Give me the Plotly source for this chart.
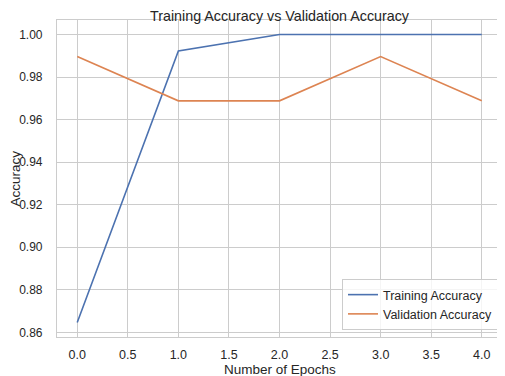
import plotly.graph_objects as go

epochs = [0, 1, 2, 3, 4]
train_acc = [0.8646, 0.9922, 1.0, 1.0, 1.0]
val_acc = [0.9896, 0.9688, 0.9688, 0.9896, 0.9688]
x_ticks = [0.0, 0.5, 1.0, 1.5, 2.0, 2.5, 3.0, 3.5, 4.0]
y_ticks = [0.86, 0.88, 0.90, 0.92, 0.94, 0.96, 0.98, 1.00]

font = "Liberation Sans, Arial, sans-serif"
OFF = 8  # browser body margin
W, H = 505 - OFF, 376 - OFF
ML, MR, MT, MB = 57 - OFF, 3, 20 - OFF, 39
PW, PH = W - ML - MR, H - MT - MB

fig = go.Figure()
fig.add_trace(go.Scatter(x=epochs, y=train_acc, mode="lines", name="Training Accuracy",
                         line=dict(color="#4C72B0", width=1.6)))
fig.add_trace(go.Scatter(x=epochs, y=val_acc, mode="lines", name="Validation Accuracy",
                         line=dict(color="#DD8452", width=1.6)))

fig.update_layout(
    width=W, height=H,
    margin=dict(l=ML, r=MR, t=MT, b=MB, autoexpand=False),
    paper_bgcolor="white", plot_bgcolor="white",
    font=dict(family=font, size=12.5, color="#262626"),
    title=dict(text="Training Accuracy vs Validation Accuracy", x=0.5, xanchor="center",
               xref="paper", y=1 - 8/H, yanchor="middle", yref="container",
               font=dict(size=14.3, color="#262626")),
    legend=dict(x=1 - 4/PW, y=7/PH, xanchor="right", yanchor="bottom",
                bgcolor="rgba(255,255,255,0.8)", bordercolor="#cccccc", borderwidth=1,
                font=dict(size=12.5), tracegroupgap=0),
    showlegend=True,
    annotations=[
        dict(text="Number of Epochs", xref="paper", yref="paper", x=0.5, y=-32/PH,
             xanchor="center", yanchor="middle", showarrow=False, font=dict(size=13.5)),
        dict(text="Accuracy", xref="paper", yref="paper", x=-42/PW, y=0.5, textangle=-90,
             xanchor="center", yanchor="middle", showarrow=False, font=dict(size=13.5)),
    ],
)
fig.update_xaxes(range=[-0.2, 4.2], tickvals=x_ticks, ticktext=[f"{v:.1f}" for v in x_ticks],
                 showgrid=True, gridcolor="#cccccc", gridwidth=1, automargin=False,
                 showline=True, linecolor="#cccccc", linewidth=1.2, mirror=True,
                 zeroline=False, ticks="", ticklabelstandoff=6)
fig.update_yaxes(range=[0.8578, 1.0068], tickvals=y_ticks, ticktext=[f"{v:.2f}" for v in y_ticks],
                 showgrid=True, gridcolor="#cccccc", gridwidth=1, automargin=False,
                 showline=True, linecolor="#cccccc", linewidth=1.2, mirror=True,
                 zeroline=False, ticks="", ticklabelstandoff=11, tickfont=dict(size=12))

fig.write_html("out.html")
